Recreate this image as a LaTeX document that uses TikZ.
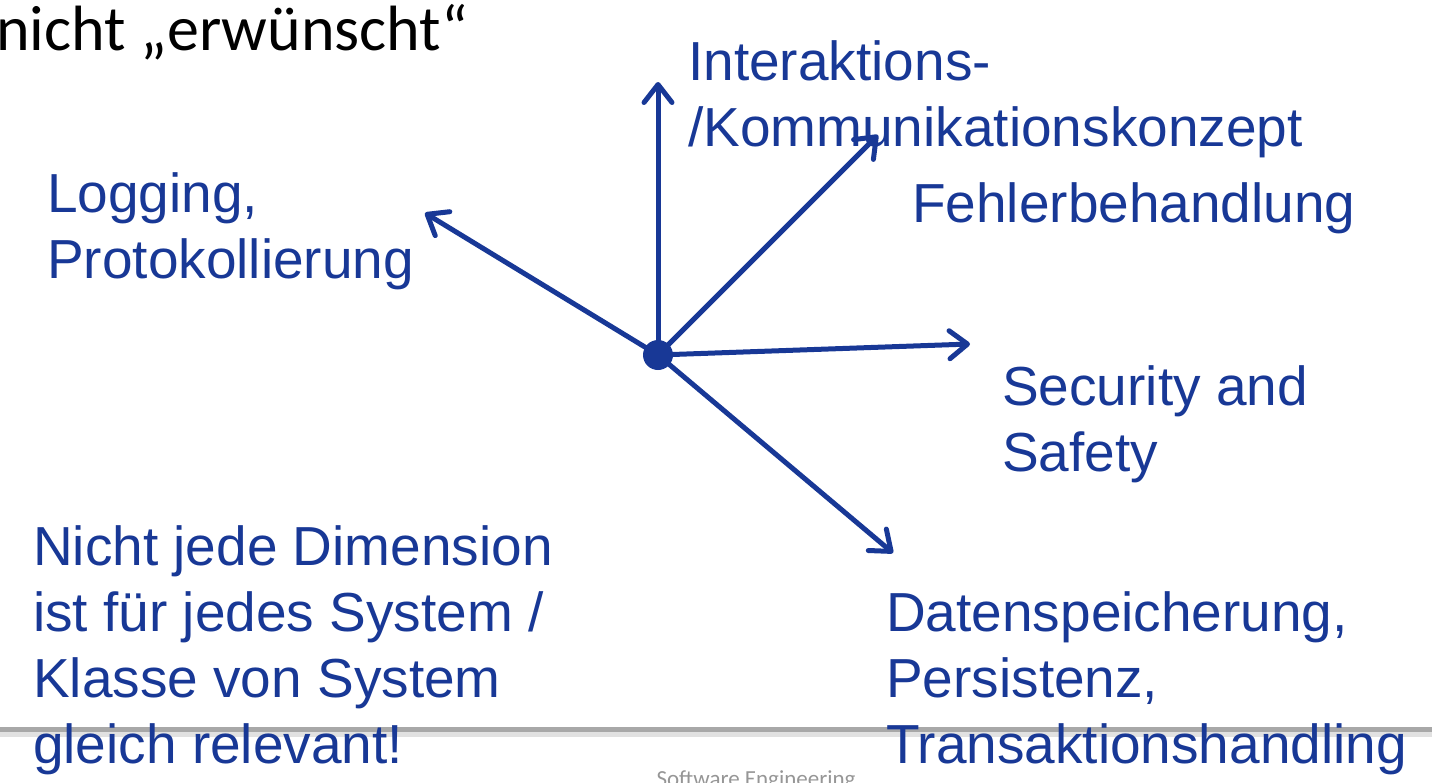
\documentclass[tikz,border=0pt]{standalone}
\usepackage{fontspec}
\setmainfont{Liberation Sans}
\newfontfamily\calib{Carlito}
\usetikzlibrary{arrows.meta}
\definecolor{dimblue}{RGB}{24,56,150}
\definecolor{rulegray}{RGB}{168,168,168}
\definecolor{footgray}{RGB}{150,150,150}
\begin{document}
\begin{tikzpicture}[x=1pt,y=-1pt,
  lbl/.style={anchor=base west, inner sep=0pt, text=dimblue,
    font=\fontsize{55}{66}\selectfont},
  dim/.style={draw=dimblue, line width=5pt, line cap=round,
    -{Straight Barb[length=18pt,width=28pt,line width=5pt,round]}}]
\useasboundingbox (0,0) rectangle (1432,782);
\clip (0,0) rectangle (1432,782);

% footer rule with its soft shadow
\fill[rulegray!35] (0,731) rectangle (1432,737);
\fill[rulegray] (0,727) rectangle (1432,732);
\node[anchor=base, inner sep=0pt, text=footgray,
  font=\calib\fontsize{23}{28}\selectfont] (foot) at (756,786) {Software Engineering};

% heading fragment
\node[anchor=base west, inner sep=0pt,
  font=\calib\fontsize{64}{76}\selectfont] (head) at (-4,50) {nicht „erwünscht“};

% dimension labels
\node[lbl] (inter1) at (688,80) {Interaktions-};
\node[lbl] (inter2) at (688,146) {/Kommunikationskonzept};
\node[lbl] (fehler) at (912,222) {Fehlerbehandlung};
\node[lbl] (log1) at (47,212) {Logging,};
\node[lbl] (log2) at (47,278) {Protokollierung};
\node[lbl] (sec1) at (1002,405) {Security and};
\node[lbl] (sec2) at (1002,471) {Safety};
\node[lbl] (dat1) at (886,631) {Datenspeicherung,};
\node[lbl] (dat2) at (886,697) {Persistenz,};
\node[lbl] (dat3) at (886,763) {Transaktionshandling};
\node[lbl] (note1) at (33,565) {Nicht jede Dimension};
\node[lbl] (note2) at (33,631) {ist für jedes System /};
\node[lbl] (note3) at (33,697) {Klasse von System};
\node[lbl] (note4) at (33,763) {gleich relevant!};

% axes from the common origin
\node[circle, fill=dimblue, minimum size=30pt, inner sep=0pt] (c) at (658,355) {};
\coordinate (up) at (658,82);
\coordinate (ur) at (878,135);
\coordinate (rt) at (970,344);
\coordinate (dr) at (893,553);
\coordinate (ul) at (425,213);
\draw[dim] (c.center) -- (up);
\draw[dim] (c.center) -- (ur);
\draw[dim] (c.center) -- (rt);
\draw[dim] (c.center) -- (dr);
\draw[dim] (c.center) -- (ul);
\end{tikzpicture}
\end{document}
